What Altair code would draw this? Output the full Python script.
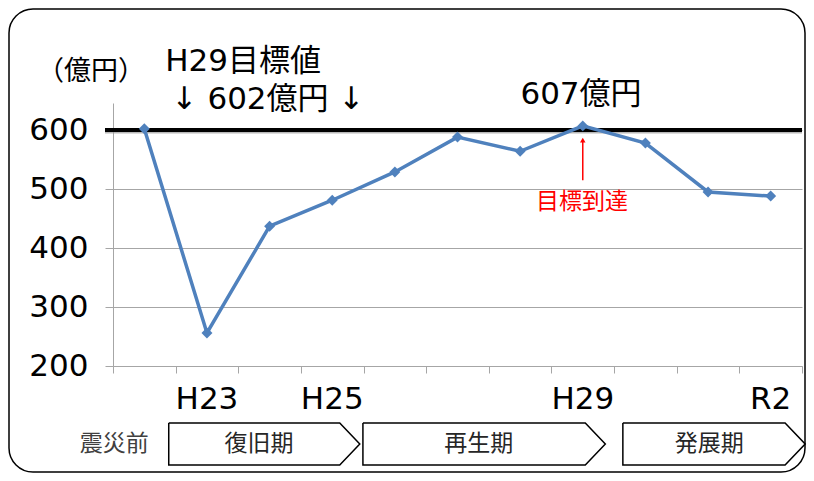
import altair as alt
import pandas as pd

# ---- data ----
years = ["H22", "H23", "H24", "H25", "H26", "H27", "H28", "H29", "H30", "R1", "R2"]
values = [602, 256, 437, 481, 529, 588, 564, 607, 578, 495, 488]
tick_labels = ["", "H23", "", "H25", "", "", "", "H29", "", "", "R2"]
y_ticks = [200, 300, 400, 500, 600]
target_line = 600

phases = ["復旧期", "再生期", "発展期"]
phase_start = [0.39, 3.49, 7.64]
phase_body_end = [3.12, 7.04, 10.23]
phase_tip = [3.44, 7.36, 10.55]
phase_label_x = [1.83, 5.34, 9.02]
pre_label = "震災前"
pre_label_x = -0.48
band_top = 103.4
band_bottom = 32.2

FONT = "DejaVu Sans, Noto Sans CJK JP, sans-serif"
JFONT = "Noto Sans CJK JP, sans-serif"
W = 400
BLUE = "#4F81BD"
GRAY = "#A6A6A6"

df = pd.DataFrame({"idx": list(range(len(years))), "year": years, "value": values,
                   "label": tick_labels})

xs = alt.Scale(domain=[-0.5, 10.5], nice=False, zero=False)
ys = alt.Scale(domain=[200, 645.8], nice=False, zero=False)
XAX = alt.Axis(values=[i - 0.5 for i in range(12)], labels=False, tickSize=7, tickColor=GRAY,
               domainColor=GRAY, grid=False, title=None)
YAX = alt.Axis(values=y_ticks, grid=True, gridColor=GRAY, domainColor=GRAY, tickColor=GRAY,
               tickSize=8, labelFontSize=31, labelFont=FONT, labelFontWeight=W, labelColor="black",
               labelPadding=17, title=None)

def X(f):
    return alt.X(f, scale=xs, axis=XAX, title=None)

def Y(f):
    return alt.Y(f, scale=ys, axis=YAX, title=None)

# chevrons
rows = []
for p, s, b, t in zip(phases, phase_start, phase_body_end, phase_tip):
    mid = (band_top + band_bottom) / 2
    pts = [(s, band_top), (b, band_top), (t, mid), (b, band_bottom), (s, band_bottom), (s, band_top)]
    for k, (xx, yy) in enumerate(pts):
        rows.append({"phase": p, "ord": k, "x": xx, "y": yy})
chev_df = pd.DataFrame(rows)
lab_df = pd.DataFrame({"phase": [pre_label] + phases,
                       "x": [pre_label_x] + phase_label_x,
                       "y": [(band_top + band_bottom) / 2] * 4,
                       "c": ["#404040", "#262626", "#262626", "#262626"]})

one = pd.DataFrame({"a": [0]})

border = alt.Chart(one).mark_rect(fill=None, stroke="black", strokeWidth=1.5, cornerRadius=24).encode(
    x=alt.value(-104), x2=alt.value(692), y=alt.value(-94), y2=alt.value(369))

shadow = alt.Chart(one).mark_rule(color="#9a9a9a", strokeWidth=3, yOffset=2, opacity=0.7).encode(
    y=alt.datum(target_line, scale=ys, axis=YAX), x=alt.value(-8), x2=alt.value(689))
black = alt.Chart(one).mark_rule(color="black", strokeWidth=4).encode(
    y=alt.datum(target_line, scale=ys, axis=YAX), x=alt.value(-8), x2=alt.value(689))

line = alt.Chart(df).mark_line(color=BLUE, strokeWidth=3.5).encode(x=X("idx:Q"), y=Y("value:Q"))
pts = alt.Chart(df).mark_point(shape="diamond", filled=True, size=120, color=BLUE, opacity=1).encode(
    x=X("idx:Q"), y=Y("value:Q"))

xlabels = alt.Chart(df).mark_text(fontSize=31, font=FONT, fontWeight=W, color="black",
                                  baseline="middle").encode(
    x=X("idx:Q"), y=alt.value(297), text="label:N")

chev = alt.Chart(chev_df).mark_line(color="black", strokeWidth=1.5, strokeJoin="miter").encode(
    x=X("x:Q"), y=Y("y:Q"), detail="phase:N", order="ord:Q")
chev_lab = alt.Chart(lab_df).mark_text(fontSize=23, font=JFONT, fontWeight=W, baseline="middle").encode(
    x=X("x:Q"), y=Y("y:Q"), text="phase:N", color=alt.Color("c:N", scale=None))

def txt(s, x, y, size, color="black", font=FONT):
    return alt.Chart(one).mark_text(text=s, fontSize=size, font=font, fontWeight=W, color=color,
                                    align="center", baseline="middle").encode(
        x=alt.value(x), y=alt.value(y))

unit = txt("（億円）", -22, -31, 27, font=JFONT)
t1 = txt("H29目標値", 130, -41, 31)
t2 = txt("↓ 602億円 ↓", 155, -3, 31)
t3 = txt("607億円", 468, -8, 31)
t4 = txt("目標到達", 469, 99, 23, color="#FF0000", font=JFONT)

arrow_df = pd.DataFrame({"x": [7], "y1": [515], "y2": [582], "tip": [583]})
arrow = alt.Chart(arrow_df).mark_rule(color="#FF0000", strokeWidth=1.5).encode(
    x=X("x:Q"), y=Y("y1:Q"), y2="y2:Q")
arrow_head = alt.Chart(arrow_df).mark_point(shape="triangle-up", filled=True, size=30,
                                            color="#FF0000", opacity=1).encode(
    x=X("x:Q"), y=Y("tip:Q"))

chart = alt.layer(border, shadow, black, line, pts, xlabels, chev, chev_lab,
                  unit, t1, t2, t3, t4, arrow, arrow_head).properties(
    width=689, height=263,
    autosize=alt.AutoSizeParams(type="none"),
    padding={"left": 105, "top": 95, "right": 4, "bottom": 107},
    background="white",
).configure_view(stroke=None)

chart.save("out.html", embed_options={"renderer": "svg", "actions": False})
